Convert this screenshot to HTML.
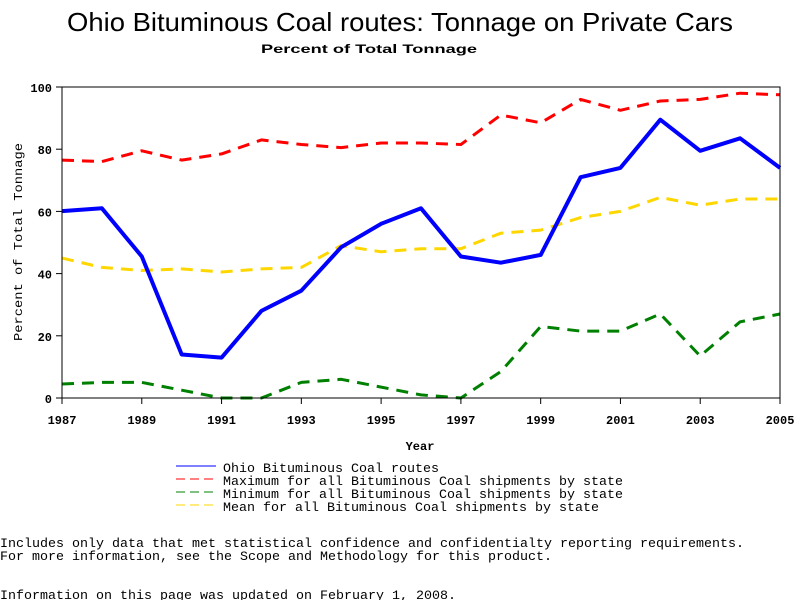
<!DOCTYPE html>
<html><head><meta charset="utf-8"><style>
html,body{margin:0;padding:0;background:#fff;width:800px;height:600px;overflow:hidden}
svg{display:block}
text{font-family:"Liberation Mono",monospace}
</style></head><body>
<svg id="s" width="800" height="600" xmlns="http://www.w3.org/2000/svg">
<text x="400" y="31" text-anchor="middle" textLength="666" lengthAdjust="spacingAndGlyphs" style="font-family:'Liberation Sans',sans-serif;font-size:26px">Ohio Bituminous Coal routes: Tonnage on Private Cars</text>
<text x="369" y="53" text-anchor="middle" textLength="216" lengthAdjust="spacingAndGlyphs" style="font-family:'Liberation Sans',sans-serif;font-size:12px;font-weight:bold">Percent of Total Tonnage</text>
<g id="plot"></g>
<text x="420" y="450" text-anchor="middle" font-size="12" font-weight="bold">Year</text>
<text transform="translate(22,242) rotate(-90)" text-anchor="middle" font-size="12" textLength="198" lengthAdjust="spacingAndGlyphs">Percent of Total Tonnage</text>
<g font-size="13.3">
<line x1="176" y1="466" x2="216" y2="466" stroke="#0000ff" stroke-width="1"/>
<line x1="176" y1="479" x2="216" y2="479" stroke="#ff0000" stroke-dasharray="9,5"/>
<line x1="176" y1="492" x2="216" y2="492" stroke="#008000" stroke-dasharray="9,5"/>
<line x1="176" y1="505" x2="216" y2="505" stroke="#ffd700" stroke-dasharray="9,5"/>
<text x="223" y="472" textLength="216" lengthAdjust="spacingAndGlyphs">Ohio Bituminous Coal routes</text>
<text x="223" y="485" textLength="400" lengthAdjust="spacingAndGlyphs">Maximum for all Bituminous Coal shipments by state</text>
<text x="223" y="498" textLength="400" lengthAdjust="spacingAndGlyphs">Minimum for all Bituminous Coal shipments by state</text>
<text x="223" y="511" textLength="376" lengthAdjust="spacingAndGlyphs">Mean for all Bituminous Coal shipments by state</text>
<text x="0" y="547" textLength="744" lengthAdjust="spacingAndGlyphs">Includes only data that met statistical confidence and confidentialty reporting requirements.</text>
<text x="0" y="560" textLength="552" lengthAdjust="spacingAndGlyphs">For more information, see the Scope and Methodology for this product.</text>
<text x="0" y="599" textLength="456" lengthAdjust="spacingAndGlyphs">Information on this page was updated on February 1, 2008.</text>
</g>
</svg>
<script>
var X0=62,X1=780,Y0=398,Y1=87;
function px(i){return X0+(X1-X0)*i/18}
function py(v){return Y0-(Y0-Y1)*v/100}
var g=document.getElementById('plot'),h='';
var blue=[60.1,61,45.5,14,13,28,34.5,48.5,56,61,45.5,43.5,46,71,74,89.5,79.5,83.5,74];
var red=[76.5,76,79.5,76.5,78.5,83,81.5,80.5,82,82,81.5,91,88.5,96,92.5,95.5,96,98,97.5];
var green=[4.5,5,5,2.5,0,0,5,6,3.5,1,0,8.5,23,21.5,21.5,27,13.5,24.5,27];
var yel=[45,42,41,41.5,40.5,41.5,42,49,47,48,48,53,54,58,60,64.5,62,64,64];
function pl(d,c,w,dash){var p=d.map(function(v,i){return px(i).toFixed(1)+','+py(v).toFixed(1)}).join(' ');
return '<polyline points="'+p+'" fill="none" stroke="'+c+'" stroke-width="'+w+'"'+(dash?' stroke-dasharray="'+dash+'"':'')+' stroke-linejoin="round"/>';}
h+=pl(yel,'#ffd700',3,'12,8');
h+=pl(red,'#ff0000',3,'12,8');
h+=pl(green,'#008000',3,'12,8');
h+=pl(blue,'#0000ff',4,'');
h+='<rect x="'+X0+'" y="'+Y1+'" width="'+(X1-X0)+'" height="'+(Y0-Y1)+'" fill="none" stroke="#000" stroke-width="1"/>';
for(var v=0;v<=100;v+=20){var y=py(v);h+='<line x1="56" x2="62" y1="'+y+'" y2="'+y+'" stroke="#000"/><text x="52" y="'+(y+5)+'" text-anchor="end" font-size="12" font-weight="bold">'+v+'</text>';}
for(var i=0;i<=18;i+=2){var x=px(i);h+='<line x1="'+x+'" x2="'+x+'" y1="398" y2="404" stroke="#000"/><text x="'+x+'" y="424" text-anchor="middle" font-size="12" font-weight="bold">'+(1987+i)+'</text>';}
g.innerHTML=h;
</script>
</body></html>
